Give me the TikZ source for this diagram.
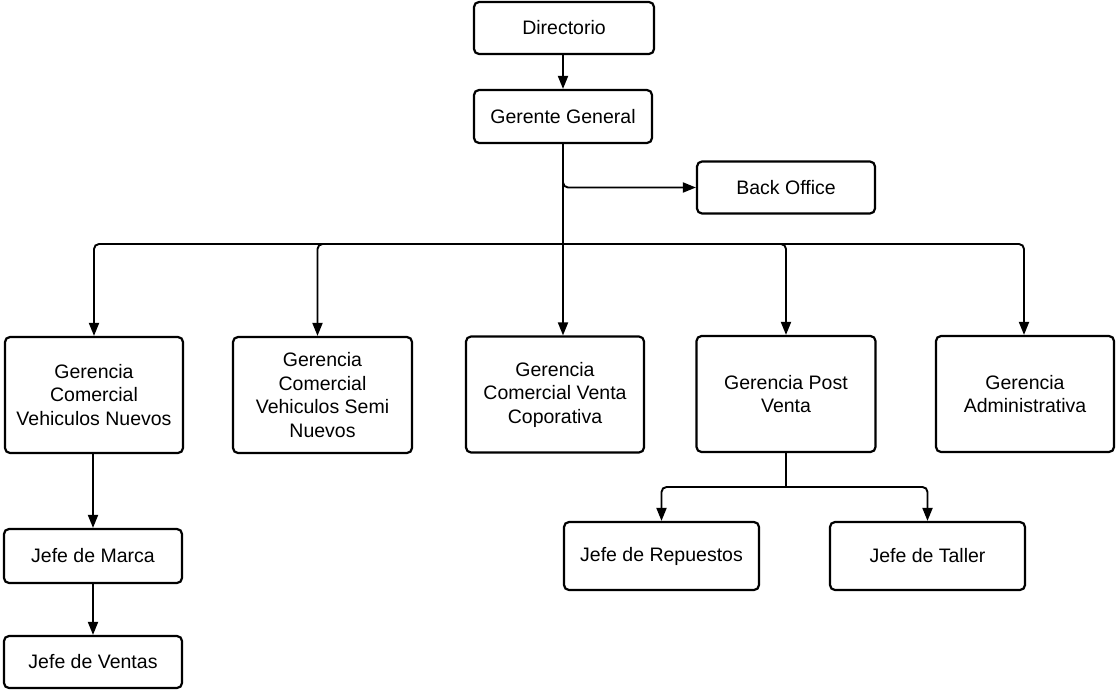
\documentclass[tikz,border=0pt]{standalone}
\usepackage{fontspec}
\setmainfont{Liberation Sans}
\usetikzlibrary{arrows.meta}
\begin{document}
\begin{tikzpicture}[x=1pt,y=-1pt,
  box/.style={draw, line width=2.2pt, rounded corners=5pt, fill=white,
    inner sep=0pt, align=center,
    font=\fontsize{19.5}{23.5}\selectfont},
  conn/.style={line width=1.9pt, rounded corners=5pt},
  arr/.style={conn, -{Triangle[length=13pt,width=10pt]}}]
\useasboundingbox (0,0) rectangle (1116,691);

% top of the hierarchy
\node[box, minimum width=180pt, minimum height=52pt] (dir) at (564,28) {Directorio};
\node[box, minimum width=178pt, minimum height=53pt] (gg) at (563,116.5) {Gerente General};
\node[box, minimum width=178pt, minimum height=52pt] (bo) at (786,187.5) {Back Office};

% management level
\node[box, minimum width=178pt, minimum height=116pt] (gcvn) at (94,395) {Gerencia\\Comercial\\Vehiculos Nuevos};
\node[box, minimum width=179pt, minimum height=116pt] (gcvs) at (322.5,395) {Gerencia\\Comercial\\Vehiculos Semi\\Nuevos};
\node[box, minimum width=178pt, minimum height=116pt] (gcvc) at (555,394.5) {Gerencia\\Comercial Venta\\Coporativa};
\node[box, minimum width=179pt, minimum height=116pt] (gpv) at (786,394) {Gerencia Post\\Venta};
\node[box, minimum width=178pt, minimum height=116pt] (ga) at (1025,394) {Gerencia\\Administrativa};

% lower levels
\node[box, minimum width=178pt, minimum height=54pt] (jm) at (93,556) {Jefe de Marca};
\node[box, minimum width=178pt, minimum height=52pt] (jv) at (93,662) {Jefe de Ventas};
\node[box, minimum width=195pt, minimum height=68pt] (jr) at (661.5,556) {Jefe de Repuestos};
\node[box, minimum width=195pt, minimum height=68pt] (jt) at (927.5,556) {Jefe de Taller};

% junction points
\coordinate (bus) at (563,244);
\coordinate (pvj) at (786,487);

% connectors
\draw[arr] (dir.south -| gg.south) -- (gg.north);
\draw[arr] (gg.south) |- (bo.west);
\draw[arr] (gg.south) -- ([xshift=8pt]gcvc.north);
\draw[arr] (bus) -| (gcvn.north);
\draw[arr] (bus) -| ([xshift=-5pt]gcvs.north);
\draw[arr] (bus) -| (gpv.north);
\draw[arr] (bus) -| ([xshift=-1pt]ga.north);
\draw[arr] (jm.north |- gcvn.south) -- (jm.north);
\draw[arr] (jm.south) -- (jv.north);
\draw[conn] (gpv.south) -- (pvj);
\draw[arr] (pvj) -| (jr.north);
\draw[arr] (pvj) -| (jt.north);
\end{tikzpicture}
\end{document}
